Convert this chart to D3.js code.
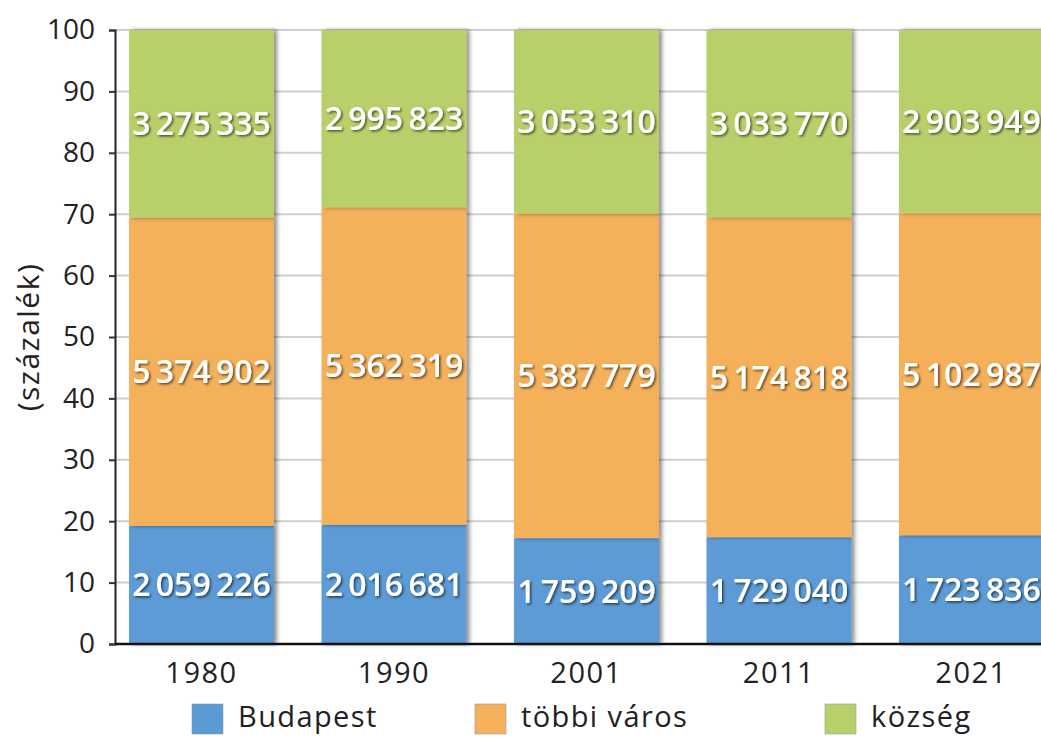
<!DOCTYPE html>
<html>
<head>
<meta charset="utf-8">
<script src="https://cdn.jsdelivr.net/npm/d3@7"></script>
<style>
  body { margin: 0; background: #fff; }
  svg { display: block; }
</style>
</head>
<body>
<div id="chart"></div>
<script>
// census years
const years = ["1980", "1990", "2001", "2011", "2021"];
// population by settlement type
const budapest = [2059226, 2016681, 1759209, 1729040, 1723836];
const tobbiVaros = [5374902, 5362319, 5387779, 5174818, 5102987];
const kozseg = [3275335, 2995823, 3053310, 3033770, 2903949];
const seriesNames = ["Budapest", "többi város", "község"];
const yTicks = [0, 10, 20, 30, 40, 50, 60, 70, 80, 90, 100];

const colors = ["#5b9bd5", "#f5b05a", "#b8d06a"];

const W = 1041, H = 738;
const margin = { top: 30, left: 115, bottom: 94 };

const svg = d3.select("#chart").append("svg")
  .attr("width", W)
  .attr("height", H);

const defs = svg.append("defs");
const shadow = defs.append("filter").attr("id", "barShadow")
  .attr("x", "-10%").attr("y", "-10%").attr("width", "130%").attr("height", "130%");
shadow.append("feDropShadow").attr("dx", 3).attr("dy", 0).attr("stdDeviation", 2)
  .attr("flood-color", "#000").attr("flood-opacity", 0.45);
const txtShadow = defs.append("filter").attr("id", "txtShadow")
  .attr("x", "-10%").attr("y", "-20%").attr("width", "130%").attr("height", "150%");
txtShadow.append("feDropShadow").attr("dx", 1.5).attr("dy", 1.5).attr("stdDeviation", 1)
  .attr("flood-color", "#000").attr("flood-opacity", 0.6);

// build table of shares
const rows = years.map((yr, i) => {
  const total = budapest[i] + tobbiVaros[i] + kozseg[i];
  return {
    year: yr,
    raw: [budapest[i], tobbiVaros[i], kozseg[i]],
    s0: budapest[i] / total * 100,
    s1: tobbiVaros[i] / total * 100,
    s2: kozseg[i] / total * 100
  };
});

const stacked = d3.stack().keys(["s0", "s1", "s2"])(rows);

const x = d3.scaleBand()
  .domain(years)
  .range([margin.left, 1058])
  .paddingInner(0.247)
  .paddingOuter(0.073);

const y = d3.scaleLinear()
  .domain([0, 100])
  .range([H - margin.bottom, margin.top]);

// gridlines
svg.append("g")
  .selectAll("line")
  .data(yTicks.filter(d => d > 0))
  .enter().append("line")
  .attr("x1", margin.left)
  .attr("x2", W)
  .attr("y1", d => y(d))
  .attr("y2", d => y(d))
  .attr("stroke", "#cfcfcf")
  .attr("stroke-width", 2);

// bars
const series = svg.selectAll("g.series")
  .data(stacked)
  .enter().append("g")
  .attr("class", "series")
  .attr("fill", (d, i) => colors[i]);

series.selectAll("rect")
  .data(d => d)
  .enter().append("rect")
  .attr("x", d => x(d.data.year))
  .attr("y", d => y(d[1]))
  .attr("width", x.bandwidth())
  .attr("height", d => y(d[0]) - y(d[1]))
  .attr("filter", "url(#barShadow)");

// value labels
const fmt = v => d3.format(",")(v).replace(/,/g, "\u2009");
series.each(function (s, si) {
  d3.select(this).selectAll("text")
    .data(s)
    .enter().append("text")
    .attr("x", d => x(d.data.year) + x.bandwidth() / 2)
    .attr("y", d => y((d[0] + d[1]) / 2))
    .attr("dy", "0.36em")
    .attr("text-anchor", "middle")
    .attr("fill", "#fff")
    .attr("filter", "url(#txtShadow)")
    .style("font-family", "'Open Sans', sans-serif")
    .style("font-weight", 600)
    .style("font-size", "32px")
    .style("letter-spacing", "0px")
    .text(d => fmt(d.data.raw[si]));
});

// y axis
const yAxis = svg.append("g")
  .attr("transform", "translate(" + margin.left + ",0)")
  .call(d3.axisLeft(y).tickValues(yTicks).tickSize(6).tickPadding(14));
yAxis.select(".domain").attr("stroke", "#222").attr("stroke-width", 2);
yAxis.selectAll(".tick line").attr("stroke", "#333").attr("stroke-width", 2);
yAxis.selectAll("text")
  .attr("fill", "#222")
  .style("font-family", "'Open Sans', sans-serif")
  .style("font-size", "28px");

// x axis baseline
svg.append("line")
  .attr("x1", margin.left)
  .attr("x2", W)
  .attr("y1", y(0))
  .attr("y2", y(0))
  .attr("stroke", "#111")
  .attr("stroke-width", 2.5);

// x labels
svg.append("g")
  .selectAll("text")
  .data(years)
  .enter().append("text")
  .attr("x", d => x(d) + x.bandwidth() / 2)
  .attr("y", 683)
  .attr("text-anchor", "middle")
  .attr("fill", "#222")
  .style("font-family", "'Open Sans', sans-serif")
  .style("font-size", "29px")
  .style("letter-spacing", "1.5px")
  .text(d => d);

// y axis title
svg.append("text")
  .attr("transform", "translate(39,337) rotate(-90)")
  .attr("text-anchor", "middle")
  .attr("fill", "#222")
  .style("font-family", "'Open Sans', sans-serif")
  .style("font-size", "30px")
  .style("letter-spacing", "1.5px")
  .text("(százalék)");

// legend
const legendX = [192, 475, 825];
const legend = svg.selectAll(".legend")
  .data(seriesNames)
  .enter().append("g")
  .attr("class", "legend")
  .attr("transform", (d, i) => "translate(" + legendX[i] + ",704)");

legend.append("rect")
  .attr("width", 31)
  .attr("height", 30)
  .attr("fill", (d, i) => colors[i])
  .attr("stroke", "#999")
  .attr("stroke-width", 0.6);

legend.append("text")
  .attr("x", 46)
  .attr("y", 23)
  .attr("fill", "#222")
  .style("font-family", "'Open Sans', sans-serif")
  .style("font-size", "29px")
  .style("letter-spacing", "1.4px")
  .text(d => d);
</script>
</body>
</html>
